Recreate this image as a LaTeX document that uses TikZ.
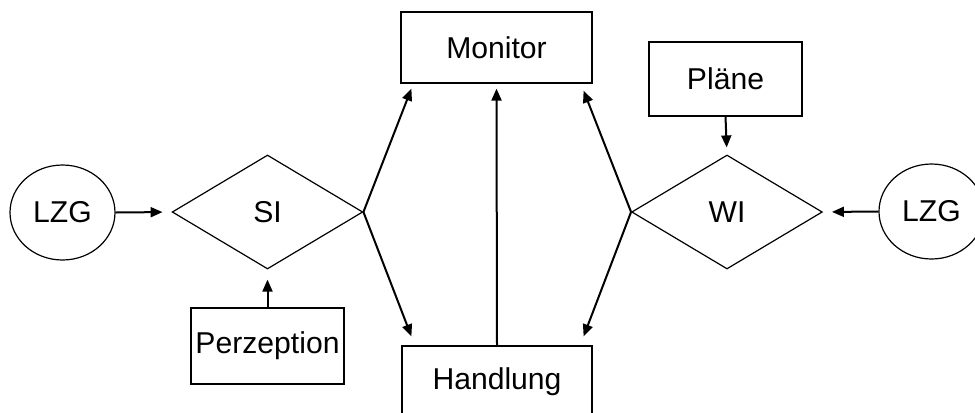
\documentclass[tikz,border=0pt]{standalone}
\usepackage{fontspec}
\setmainfont{Liberation Sans}
\usetikzlibrary{shapes.geometric,arrows.meta,calc}
\begin{document}
\begin{tikzpicture}[x=0.75pt,y=-0.75pt,
  font=\fontsize{22.6}{26}\selectfont,
  boxnode/.style={draw,line width=0.9pt,rectangle,inner sep=0pt},
  ellnode/.style={draw,line width=0.9pt,ellipse,inner sep=0pt,minimum width=78.75pt,minimum height=71.25pt},
  dianode/.style={draw,line width=0.9pt,diamond,inner sep=0pt,minimum width=143pt,minimum height=85.5pt},
  arr/.style={line width=1.5pt,-{Triangle[length=9pt,width=7.5pt]}}]
\useasboundingbox (0,0) rectangle (975,412);
\clip (0,0) rectangle (975,412);
\node[boxnode,minimum width=143.25pt,minimum height=53.25pt] (monitor) at (496.5,47.5) {Monitor};
\node[boxnode,minimum width=142.5pt,minimum height=54pt] (handlung) at (497,382) {Handlung};
\node[boxnode,minimum width=114.75pt,minimum height=55.5pt] (plaene) at (725.5,79) {Pläne};
\node[boxnode,minimum width=114.75pt,minimum height=57pt] (perz) at (267.5,346) {Perzeption};
\node[ellnode] (lzgl) at (62.5,212.5) {LZG};
\node[ellnode] (lzgr) at (931.5,211.5) {LZG};
\node[dianode] (si) at (267.5,212) {SI};
\node[dianode] (wi) at (727,212) {WI};
\draw[arr,shorten >=6.75pt] (lzgl.east) -- (si.west);
\draw[arr,shorten >=6.75pt] (lzgr.west) -- (wi.east);
\draw[arr,shorten >=7.5pt] (perz.north) -- (si.south);
\draw[arr,shorten >=5.25pt] (plaene.south) -- (wi.north);
\draw[arr,shorten >=3.75pt] (handlung.north) -- (monitor.south);
\draw[arr] (si.east) -- ($(monitor.south west)+(11,5)$);
\draw[arr] (si.east) -- ($(handlung.north west)+(10,-9)$);
\draw[arr] (wi.west) -- ($(monitor.south east)+(-9,7)$);
\draw[arr] (wi.west) -- ($(handlung.north east)+(-9,-9)$);
\end{tikzpicture}
\end{document}
